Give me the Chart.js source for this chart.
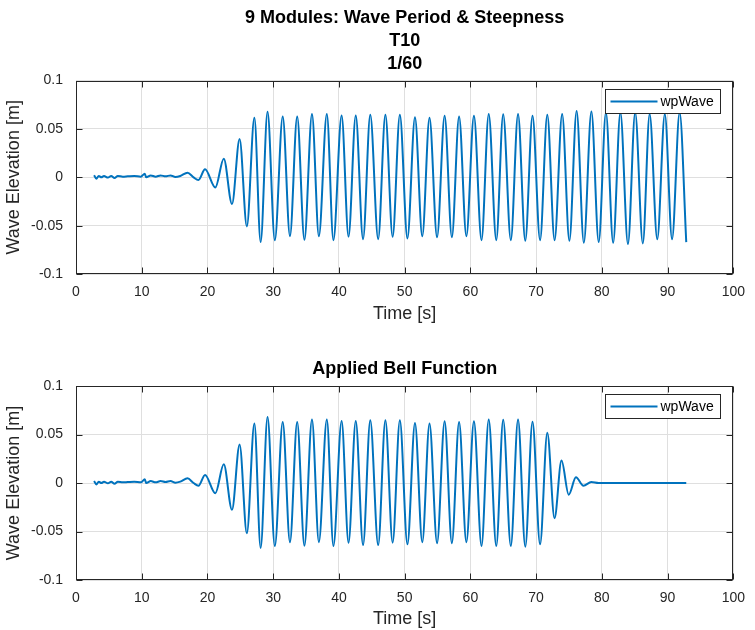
<!DOCTYPE html>
<html><head><meta charset="utf-8">
<script src="https://cdn.jsdelivr.net/npm/chart.js@4/dist/chart.umd.min.js"></script>
<style>
html,body{margin:0;padding:0;background:#fff;overflow:hidden;width:755px;height:630px}
canvas{position:absolute;left:0}
#c1{top:0}
#c2{top:294px}
</style></head><body>
<canvas id="c1" width="755" height="335"></canvas>
<canvas id="c2" width="755" height="336"></canvas>
<script>
// ---- data ----
const seriesName = 'wpWave';
const topTitle = ['9 Modules: Wave Period & Steepness', 'T10', '1/60'];
const bottomTitle = 'Applied Bell Function';
const xLabel = 'Time [s]';
const yLabel = 'Wave Elevation [m]';
const xTickValues = [0, 10, 20, 30, 40, 50, 60, 70, 80, 90, 100];
const yTickValues = [-0.1, -0.05, 0, 0.05, 0.1];

// measured wave (turning points), time in s
const rawTime = [2.75, 3.10, 3.46, 3.86, 4.26, 4.86, 5.36, 5.86, 6.36, 7.11, 7.86, 8.86, 9.86, 10.47, 10.67,
  11.37, 12.12, 12.87, 13.62, 14.37, 15.12, 15.87, 16.97, 17.88, 18.63, 19.63, 21.20, 22.48, 23.73, 24.89,
  25.99, 27.14, 28.09, 29.14, 30.25, 31.45, 32.55, 33.65, 34.75, 35.90, 36.95, 38.16, 39.16, 40.41, 41.46,
  42.56, 43.67, 44.77, 45.97, 47.07, 48.17, 49.27, 50.42, 51.57, 52.68, 53.78, 54.93, 56.08, 57.18, 58.28,
  59.39, 60.54, 61.69, 62.79, 63.94, 64.99, 66.15, 67.25, 68.35, 69.45, 70.60, 71.70, 72.81, 73.96, 75.06,
  76.16, 77.26, 78.41, 79.52, 80.62, 81.72, 82.82, 83.97, 85.07, 86.23, 87.27, 88.43, 89.58, 90.68, 91.83, 92.84];
const rawElevation = [0.0021, -0.0014, 0.0014, 0.0000, 0.0014, -0.0003, 0.0014, -0.0007, 0.0014, 0.0007, 0.0010, 0.0014, 0.0007, 0.0038, 0.0000,
  0.0020, 0.0007, 0.0020, 0.0010, 0.0020, 0.0003, 0.0014, 0.0048, 0.0000, -0.0028, 0.0083, -0.0105, 0.0193, -0.0276, 0.0397,
  -0.0508, 0.0615, -0.0670, 0.0677, -0.0650, 0.0630, -0.0610, 0.0630, -0.0646, 0.0656, -0.0610, 0.0656, -0.0650, 0.0640, -0.0615,
  0.0640, -0.0640, 0.0646, -0.0640, 0.0646, -0.0615, 0.0646, -0.0632, 0.0620, -0.0610, 0.0615, -0.0620, 0.0636, -0.0620, 0.0630,
  -0.0610, 0.0636, -0.0650, 0.0656, -0.0650, 0.0653, -0.0650, 0.0656, -0.0656, 0.0636, -0.0650, 0.0646, -0.0650, 0.0656, -0.0656,
  0.0687, -0.0677, 0.0680, -0.0670, 0.0670, -0.0677, 0.0670, -0.0690, 0.0670, -0.0684, 0.0656, -0.0640, 0.0656, -0.0640, 0.0670, -0.0670];

// wave after bell function (turning points), time in s
const bellTime = [2.75, 3.10, 3.46, 3.86, 4.26, 4.86, 5.36, 5.86, 6.36, 7.11, 7.86, 8.86, 9.86, 10.47, 10.67,
  11.37, 12.12, 12.87, 13.62, 14.37, 15.12, 15.87, 16.97, 17.88, 18.63, 19.63, 21.20, 22.48, 23.73, 24.89,
  25.99, 27.14, 28.09, 29.14, 30.25, 31.45, 32.55, 33.65, 34.75, 35.90, 36.95, 38.16, 39.16, 40.41, 41.46,
  42.56, 43.67, 44.77, 45.97, 47.07, 48.17, 49.27, 50.42, 51.57, 52.68, 53.78, 54.93, 56.08, 57.18, 58.28,
  59.39, 60.54, 61.69, 62.79, 63.94, 64.99, 66.15, 67.25, 68.35, 69.45, 70.60, 71.70, 72.80, 73.86, 74.96,
  76.06, 77.20, 78.40, 79.50, 92.84];
const bellElevation = [0.0021, -0.0014, 0.0014, 0.0000, 0.0014, -0.0003, 0.0014, -0.0007, 0.0014, 0.0007, 0.0010, 0.0014, 0.0007, 0.0038, 0.0000,
  0.0020, 0.0007, 0.0020, 0.0010, 0.0020, 0.0003, 0.0014, 0.0048, 0.0000, -0.0028, 0.0083, -0.0105, 0.0193, -0.0276, 0.0397,
  -0.0518, 0.0615, -0.0670, 0.0680, -0.0650, 0.0630, -0.0610, 0.0630, -0.0646, 0.0656, -0.0610, 0.0656, -0.0650, 0.0640, -0.0615,
  0.0640, -0.0640, 0.0646, -0.0640, 0.0646, -0.0615, 0.0646, -0.0632, 0.0620, -0.0610, 0.0615, -0.0620, 0.0636, -0.0620, 0.0630,
  -0.0610, 0.0636, -0.0650, 0.0656, -0.0650, 0.0653, -0.0650, 0.0656, -0.0656, 0.0632, -0.0632, 0.0518, -0.0363, 0.0231, -0.0121,
  0.0059, -0.0028, 0.0010, 0.0000, 0.0000];

// ---- styling ----
const FONT = '"Liberation Sans", Arial, Helvetica, sans-serif';
const AXIS_COLOR = '#262626';
const GRID_COLOR = '#dfdfdf';
const LINE_COLOR = '#0072BD';

const matlabFrame = {
  id: 'matlabFrame',
  afterDraw(chart) {
    const {ctx, chartArea: a, scales} = chart;
    const L = Math.round(a.left) + 0.5, R = Math.round(a.right) - 0.5;
    const T = Math.round(a.top) + 0.5, B = Math.round(a.bottom) - 0.5;
    const tl = 6;
    ctx.save();
    ctx.strokeStyle = AXIS_COLOR;
    ctx.lineWidth = 1;
    ctx.beginPath();
    xTickValues.forEach(v => {
      const px = Math.round(scales.x.getPixelForValue(v)) + 0.5;
      ctx.moveTo(px, B); ctx.lineTo(px, B - tl);
      ctx.moveTo(px, T); ctx.lineTo(px, T + tl);
    });
    yTickValues.forEach(v => {
      const py = Math.round(scales.y.getPixelForValue(v)) + 0.5;
      ctx.moveTo(L, py); ctx.lineTo(L + tl, py);
      ctx.moveTo(R, py); ctx.lineTo(R - tl, py);
    });
    ctx.stroke();
    ctx.strokeRect(L, T, R - L, B - T);
    // legend box
    const ds = chart.data.datasets[0];
    const w = 115, h = 24;
    const lx = Math.round(a.right - 13 - w) + 0.5, ly = Math.round(a.top + 8) + 0.5;
    ctx.fillStyle = '#fff';
    ctx.fillRect(lx, ly, w, h);
    ctx.strokeStyle = AXIS_COLOR;
    ctx.strokeRect(lx, ly, w, h);
    ctx.strokeStyle = ds.borderColor;
    ctx.lineWidth = 1.8;
    ctx.beginPath();
    ctx.moveTo(lx + 5, ly + h / 2); ctx.lineTo(lx + 52, ly + h / 2);
    ctx.stroke();
    ctx.fillStyle = '#000';
    ctx.font = '14px ' + FONT;
    ctx.textBaseline = 'middle';
    ctx.textAlign = 'left';
    ctx.fillText(ds.label, lx + 55, ly + h / 2 + 0.5);
    ctx.restore();
  }
};

function makeChart(id, time, elev, title, titlePad, xAxisHeight, xTitlePad) {
  return new Chart(document.getElementById(id), {
    type: 'line',
    data: {
      datasets: [{
        label: seriesName,
        data: time.map((t, i) => ({x: t, y: elev[i]})),
        borderColor: LINE_COLOR,
        borderWidth: 2,
        pointRadius: 0,
        fill: false,
        cubicInterpolationMode: 'monotone'
      }]
    },
    options: {
      responsive: false,
      animation: false,
      devicePixelRatio: 1,
      layout: {padding: {left: 0, right: 13, top: 0, bottom: 0}},
      plugins: {
        legend: {display: false},
        tooltip: {enabled: false},
        title: {
          display: true, text: title, fullSize: false, color: '#000',
          font: {family: FONT, size: 18, weight: 'bold', lineHeight: 1.28},
          padding: titlePad
        }
      },
      scales: {
        x: {
          type: 'linear', min: 0, max: 100,
          afterBuildTicks: s => { s.ticks = xTickValues.map(v => ({value: v})); },
          afterFit: s => { s.height = xAxisHeight; },
          grid: {color: GRID_COLOR, drawTicks: false, lineWidth: 1},
          border: {display: false},
          ticks: {padding: 10, color: AXIS_COLOR, font: {family: FONT, size: 14}, maxRotation: 0, autoSkip: false,
                  callback: v => String(v)},
          title: {display: true, text: xLabel, color: AXIS_COLOR, font: {family: FONT, size: 18},
                  padding: {top: 0, bottom: xTitlePad}}
        },
        y: {
          type: 'linear', min: -0.1, max: 0.1,
          afterBuildTicks: s => { s.ticks = yTickValues.map(v => ({value: v})); },
          afterFit: s => { s.width = 76; },
          grid: {color: GRID_COLOR, drawTicks: false, lineWidth: 1},
          border: {display: false},
          ticks: {padding: 13, color: AXIS_COLOR, font: {family: FONT, size: 14}, autoSkip: false,
                  callback: v => String(v)},
          title: {display: true, text: yLabel, color: AXIS_COLOR, font: {family: FONT, size: 18},
                  padding: {top: 3.5, bottom: 0}}
        }
      }
    },
    plugins: [matlabFrame]
  });
}

makeChart('c1', rawTime, rawElevation, topTitle, {top: 6.5, bottom: 5}, 61, 10.5);
makeChart('c2', bellTime, bellElevation, bottomTitle, {top: 63.8, bottom: 5.2}, 50, 0);
</script>
</body></html>
